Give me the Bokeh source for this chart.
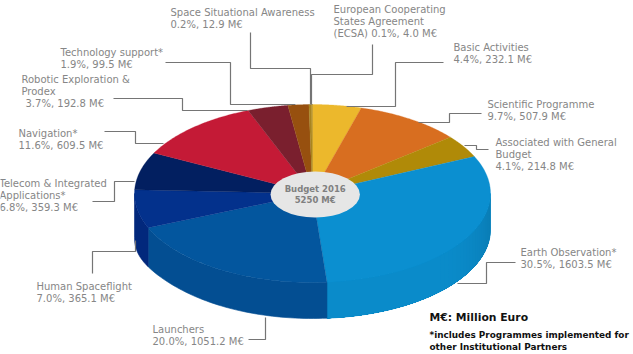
import numpy as np
from bokeh.core.properties import value
from bokeh.embed import file_html
from bokeh.models import Range1d
from bokeh.plotting import figure
from bokeh.resources import INLINE

# ESA 2016 budget, clockwise from twelve o'clock
programmes = ["Basic", "Scientific", "General", "Earth", "Launchers", "Human",
              "Telecom", "Navigation", "Robotic", "Technology", "SSA", "ECSA"]
percent = [4.4, 9.7, 4.1, 30.5, 20.0, 7.0, 6.8, 11.6, 3.7, 1.9, 0.2, 0.1]
million_euro = [232.1, 507.9, 214.8, 1603.5, 1051.2, 365.1, 359.3, 609.5, 192.8, 99.5, 12.9, 4.0]
top_colors = ["#ecb82c", "#d86e20", "#b08a08", "#0b8fd0", "#03569e", "#03318c",
              "#021f60", "#c41a36", "#7a1f2e", "#97500f", "#a88420", "#b8901a"]
side_colors = ["#ecb82c", "#d86e20", "#b08a08", "#0b8ccb", "#034e92", "#02287c",
               "#021f60", "#c41a36", "#7a1f2e", "#97500f", "#a88420", "#b8901a"]
total_label = ["Budget 2016", "5250 M€"]

# Label text for each programme: name lines, then the figure line
name_lines = [["Basic Activities"], ["Scientific Programme"],
              ["Associated with General", "Budget"], ["Earth Observation*"], ["Launchers"],
              ["Human Spaceflight"], ["Telecom & Integrated", "Applications*"],
              ["Navigation*"], ["Robotic Exploration &", "Prodex"], ["Technology support*"],
              ["Space Situational Awareness"], ["European Cooperating", "States Agreement"]]

W, H = 633, 354
CX, CY, RX, RY = 312.0, 193.0, 178.0, 89.0
DEPTH = 36.0
FONT = value("DejaVu Sans")

p = figure(width=W, height=H, x_range=Range1d(0, W), y_range=Range1d(H, 0),
           output_backend="svg", toolbar_location=None, min_border=0)
p.axis.visible = False
p.grid.visible = False
p.outline_line_color = None
p.background_fill_color = "white"
p.border_fill_color = "white"


def rim(a0, a1, n=60):
    t = np.radians(np.linspace(a0, a1, n))
    return CX + RX * np.sin(t), CY - RY * np.cos(t)


def base_y(t_deg):
    # The lower edge of the wall runs a little deeper on the far left
    t = np.radians(t_deg)
    swell = 8.0 * np.abs(np.sin(t)) ** 12 * (t_deg > 180)
    return CY + DEPTH + swell - RY * np.cos(t)


def darken(c, f):
    r, g, b = int(c[1:3], 16), int(c[3:5], 16), int(c[5:7], 16)
    return "#%02x%02x%02x" % (int(r * f), int(g * f), int(b * f))


def wall(a0, a1, color, line=True):
    xt, yt = rim(a0, a1, 50)
    yb = base_y(np.linspace(a0, a1, 50))
    p.patch(np.r_[xt, xt[::-1]], np.r_[yt, yb[::-1]], fill_color=color,
            line_color=color if line else None, line_width=0.6)


edges = np.concatenate([[0.0], np.cumsum(million_euro)]) / sum(million_euro) * 360.0

# Wall of the drum; on the right it is painted in overlapping layers, each one
# shorter and lighter, so the shade falls off smoothly towards the front.
# Later slices cover the end where the layers stop.
for a0, a1, c in zip(edges[:-1], edges[1:], side_colors):
    lo, hi = max(a0, 90.0), min(a1, 270.0)
    if hi <= lo:
        continue
    wall(lo, hi, c)
    if lo < 135:
        for s in np.arange(lo, 135.0, 2.0):
            f = 1.0 - 0.10 * np.sin(np.radians(s)) ** 10
            wall(s, hi, darken(c, f), line=False)

# Top face
for a0, a1, c in zip(edges[:-1], edges[1:], top_colors):
    x, y = rim(a0, a1)
    p.patch(np.r_[CX, x], np.r_[CY, y], fill_color=c, line_color=c, line_width=0.3)

# Centre plate
p.ellipse([314.7], [194], width=[89.4], height=[46], fill_color="#e6e6e6", line_color=None)
p.text([314.7, 314.7], [188.5, 199.5], text=total_label, text_font=FONT, text_font_style="bold",
       text_font_size="8.5px", text_color="#808080", text_align="center", text_baseline="middle")

# Leader lines, in the same order as the programmes
leaders = [
    ([443, 395, 395, 346], [62, 62, 106, 106]),
    ([481, 449, 449, 418], [113, 113, 122, 122]),
    ([488, 476, 476, 464], [149, 149, 145, 145]),
    ([515, 486, 486, 457], [262, 262, 283, 283]),
    ([248, 265, 265], [339, 339, 317]),
    ([92, 92, 135, 135], [273, 251, 251, 240]),
    ([92, 114, 114, 134], [201, 201, 181, 181]),
    ([104, 135, 135, 163], [131, 131, 143, 143]),
    ([113, 182, 182, 247], [98, 98, 110, 110]),
    ([165, 230, 230, 295], [62, 62, 104, 104]),
    ([250, 250, 310, 310], [32, 68, 68, 104]),
    ([372, 372, 311, 311], [44, 74, 74, 104]),
]
for lx, ly in leaders:
    p.line(lx, ly, line_color="#757575", line_width=1.2)

# Label anchors (left edge, first line centre)
anchors = [(453, 47), (487, 104), (495, 142), (520, 252), (152, 329), (36, 286),
           (-1, 183), (18, 133), (21, 79), (60, 52), (170, 12), (333, 9)]
LEAD = 12.0
for i, (ax, ay) in enumerate(anchors):
    lines = list(name_lines[i])
    figures = f"{percent[i]:.1f}%, {million_euro[i]:.1f} M€"
    xs = [ax] * (len(lines) + 1)
    if programmes[i] == "ECSA":
        lines.append("(ECSA) " + figures)
    else:
        lines.append(figures)
    if programmes[i] == "Robotic":
        xs[-1] = ax + 4
    ys = [ay + LEAD * k for k in range(len(lines))]
    p.text(xs, ys, text=lines, text_font=FONT, text_font_size="10px",
           text_color="#868686", text_align="left", text_baseline="middle")

# Notes under the drum
p.text([429], [317], text=["M€: Million Euro"], text_font=FONT, text_font_style="bold",
       text_font_size="10.8px", text_color="#111111", text_align="left", text_baseline="middle")
p.text([429, 429], [334, 346], text=["*includes Programmes implemented for", "other Institutional Partners"],
       text_font=FONT, text_font_style="bold", text_font_size="8.9px",
       text_color="#111111", text_align="left", text_baseline="middle")

open("out.html", "w").write(file_html(p, INLINE))
